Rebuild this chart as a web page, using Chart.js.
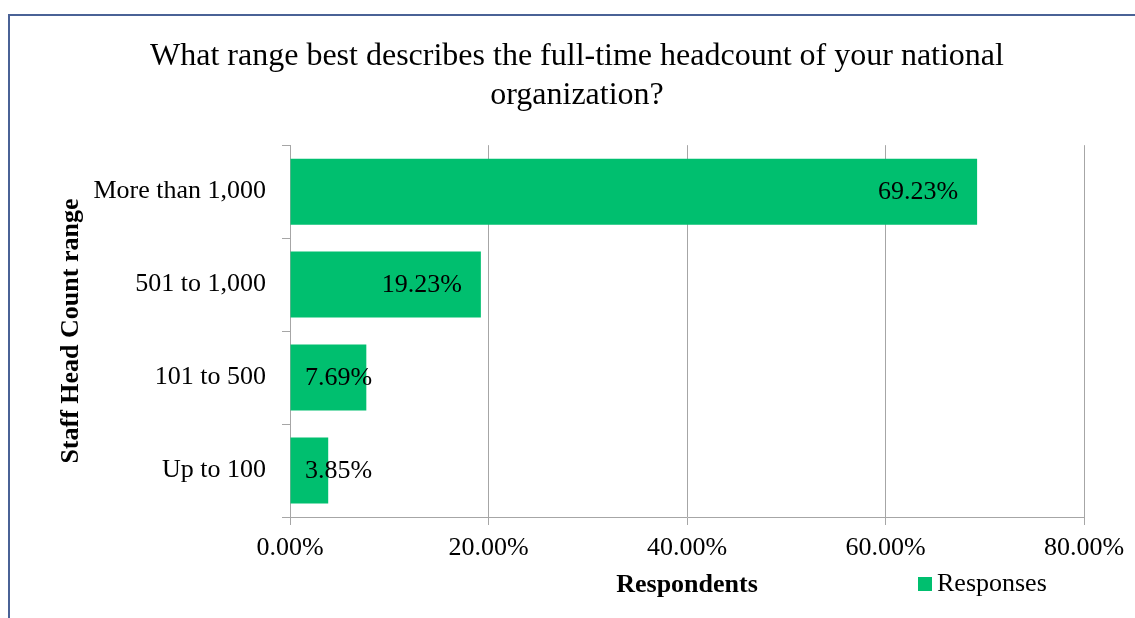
<!DOCTYPE html>
<html>
<head>
<meta charset="utf-8">
<script src="https://cdn.jsdelivr.net/npm/chart.js@4/dist/chart.umd.min.js"></script>
<style>
  html, body { margin: 0; padding: 0; background: #fff; overflow: hidden; }
  #frame { position: absolute; left: 8px; top: 14px; width: 1200px; height: 700px; border: 2px solid #4a6296; box-sizing: border-box; }
  #wrap { position: absolute; left: 0; top: 0; width: 1135px; height: 618px; }
</style>
</head>
<body>
<div id="frame"></div>
<div id="wrap"><canvas id="headcountChart"></canvas></div>
<script>
const categories = ['More than 1,000', '501 to 1,000', '101 to 500', 'Up to 100']
const responses = [69.23, 19.23, 7.69, 3.85]
const xTicks = [0, 20, 40, 60, 80]

const serif = "'Liberation Serif', 'Times New Roman', serif"
const barColor = '#00bf6f'
const gridColor = '#a6a6a6'

// value labels: right-aligned near the bar end, pushed right for short bars
const valueLabels = {
    id: 'valueLabels',
    afterDatasetsDraw(chart) {
        const ctx = chart.ctx
        const meta = chart.getDatasetMeta(0)
        const x0 = chart.scales.x.getPixelForValue(0)
        ctx.save()
        ctx.font = '26px ' + serif
        ctx.fillStyle = '#000'
        ctx.textAlign = 'right'
        ctx.textBaseline = 'middle'
        meta.data.forEach((bar, i) => {
            const txt = responses[i].toFixed(2) + '%'
            const w = ctx.measureText(txt).width
            const right = Math.max(bar.x - 19, x0 + 15 + w)
            ctx.fillText(txt, right, bar.y + 1)
        })
        ctx.restore()
    }
}

// legend sits on the same line as the x axis title
const sideLegend = {
    id: 'sideLegend',
    afterDraw(chart) {
        const ctx = chart.ctx
        const ds = chart.data.datasets[0]
        ctx.save()
        ctx.fillStyle = ds.backgroundColor
        ctx.fillRect(918, 577, 14, 14)
        ctx.font = '26px ' + serif
        ctx.fillStyle = '#000'
        ctx.textAlign = 'left'
        ctx.textBaseline = 'middle'
        ctx.fillText(ds.label, 937, 584)
        ctx.restore()
    }
}

// center the title on the whole frame rather than the padded box
const titleSpan = {
    id: 'titleSpan',
    afterLayout(chart) {
        if (chart.titleBlock) {
            chart.titleBlock.left = 19
            chart.titleBlock.right = 1135
        }
    }
}

const chart = new Chart(document.getElementById('headcountChart'), {
    type: 'bar',
    data: {
        labels: categories,
        datasets: [{
            label: 'Responses',
            data: responses,
            backgroundColor: barColor,
            borderWidth: 0,
            categoryPercentage: 1,
            barPercentage: 0.71
        }]
    },
    options: {
        indexAxis: 'y',
        responsive: true,
        maintainAspectRatio: false,
        animation: false,
        layout: { padding: { left: 0, right: 51, top: 0, bottom: 0 } },
        plugins: {
            legend: { display: false },
            tooltip: { enabled: false },
            title: {
                display: true,
                text: ['What range best describes the full-time headcount of your national', 'organization?'],
                color: '#000',
                font: { family: serif, size: 32, weight: 'normal', lineHeight: 1.19 },
                padding: { top: 38, bottom: 31 }
            }
        },
        scales: {
            x: {
                min: 0,
                max: 80,
                afterBuildTicks: (scale) => { scale.ticks = xTicks.map(v => ({ value: v })) },
                afterFit: (scale) => { scale.height = 101 },
                ticks: {
                    color: '#000',
                    font: { family: serif, size: 26 },
                    padding: 8,
                    maxRotation: 0,
                    callback: (v) => v.toFixed(2) + '%'
                },
                grid: { color: gridColor, lineWidth: 1, tickLength: 8 },
                border: { color: gridColor, width: 1 },
                title: {
                    display: true,
                    text: 'Respondents',
                    color: '#000',
                    font: { family: serif, size: 26, weight: 'bold' },
                    padding: { top: 0, bottom: 17 }
                }
            },
            y: {
                afterFit: (scale) => { scale.width = 290 },
                ticks: {
                    color: '#000',
                    font: { family: serif, size: 26 },
                    padding: 16
                },
                grid: { offset: true, drawOnChartArea: false, color: gridColor, tickLength: 8 },
                border: { color: gridColor, width: 1 },
                title: {
                    display: true,
                    text: 'Staff Head Count range',
                    color: '#000',
                    font: { family: serif, size: 26, weight: 'bold' },
                    padding: { top: 56, bottom: 0 }
                }
            }
        }
    },
    plugins: [valueLabels, sideLegend, titleSpan]
})
</script>
</body>
</html>
